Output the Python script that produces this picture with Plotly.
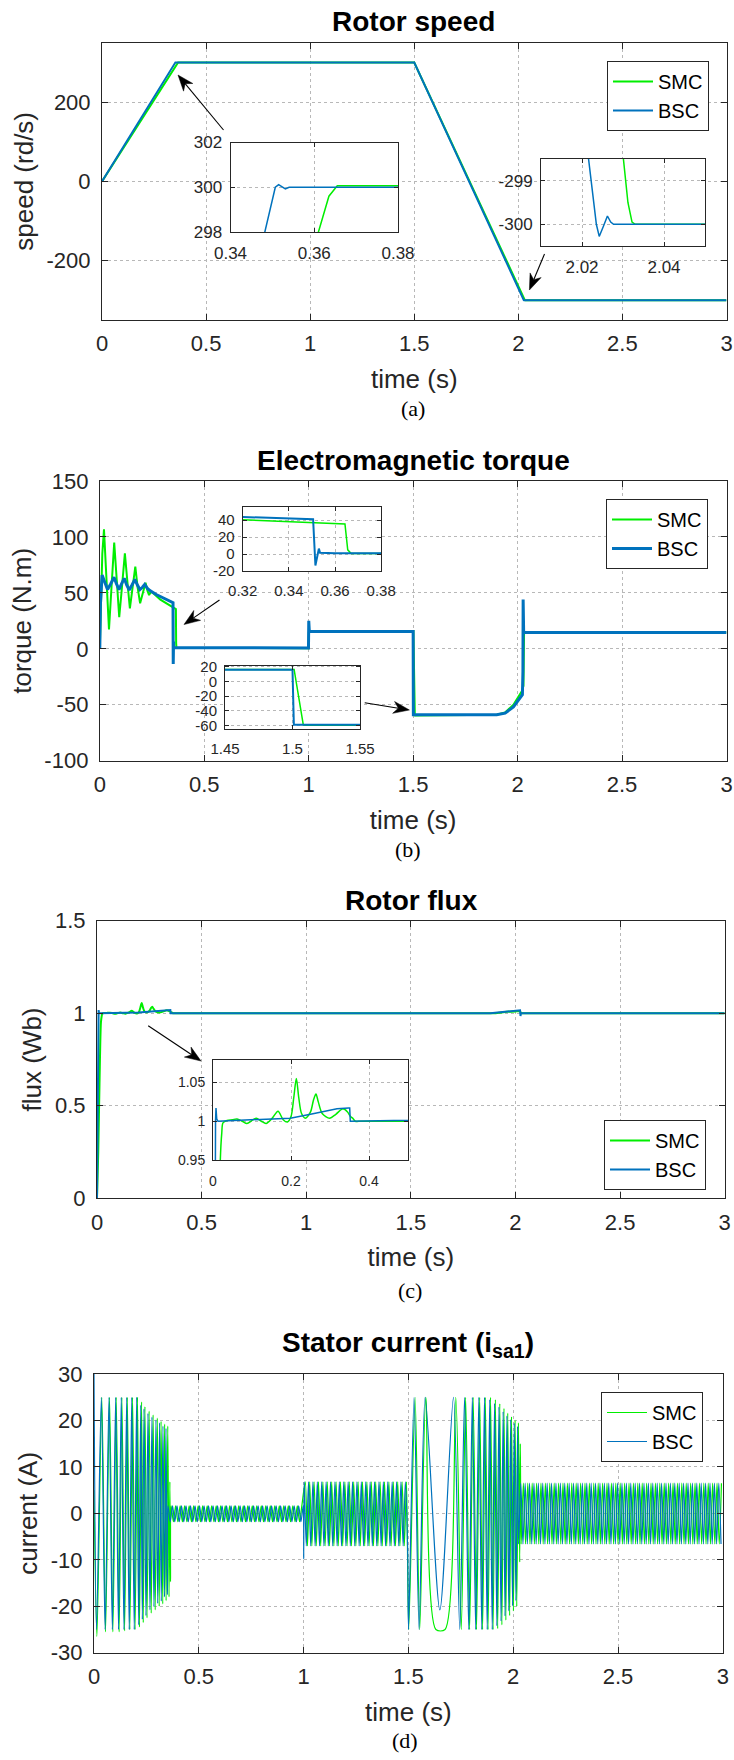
import math
import numpy as np
import plotly.graph_objects as go

W, H = 734, 1760

# ---------------- (a) rotor speed ----------------
spd_t_smc = [0.0, 0.1, 0.2, 0.3, 0.361, 0.3635, 0.3655, 0.38, 1.5, 2.0301, 2.0312, 2.0322, 2.033, 3.0]
spd_smc   = [0.0, 82, 165, 248, 298.0, 299.6, 300.07, 300.07, 300.07, -298.5, -299.5, -299.95, -300.0, -300.0]
spd_t_bsc = [0.0, 0.1, 0.2, 0.3, 0.3482, 0.3507, 0.3515, 0.3523, 0.3531, 0.354, 1.5,
             2.0216, 2.0235, 2.0242, 2.0252, 2.0262, 2.0270, 2.0277, 3.0]
spd_bsc   = [0.0, 86, 171, 257, 298.0, 300.0, 300.12, 300.02, 299.93, 300.0, 300.0,
             -298.5, -300.0, -300.28, -300.05, -299.81, -299.95, -300.0, -300.0]

# ---------------- (b) electromagnetic torque ----------------
tq_t_smc = [0.0, 0.006, 0.012, 0.020, 0.032, 0.044, 0.056, 0.069, 0.081, 0.093, 0.106, 0.120,
            0.132, 0.144, 0.157, 0.170, 0.181, 0.193, 0.206, 0.219, 0.228, 0.236, 0.245, 0.26,
            0.29, 0.32, 0.343, 0.3643, 0.3655, 0.367, 0.38, 0.60, 0.999, 1.0005, 1.003, 1.5,
            1.5012, 1.508, 1.509, 1.90, 1.94, 1.98, 2.02, 2.028, 2.030, 2.031, 2.05, 3.0]
tq_smc   = [0, 45, 85, 106.8, 62, 17.4, 55, 94.9, 62, 28.2, 55, 85.4,
            60, 36.2, 55, 73.4, 55, 40.7, 50, 59.1, 52, 48, 51, 49,
            44, 40.8, 38.5, 35.5, 5, 0.8, 0.8, 0.6, 0.6, 15, 15.5, 16,
            16, -59, -59.5, -59, -57, -50, -38, -33, -5, 14.5, 14.5, 14.5]
tq_t_bsc = [0.0, 0.003, 0.011, 0.024, 0.037, 0.052, 0.068, 0.080, 0.092, 0.104, 0.117, 0.129,
            0.141, 0.154, 0.168, 0.180, 0.192, 0.204, 0.215, 0.228, 0.240, 0.27, 0.30, 0.32,
            0.3505, 0.3515, 0.3522, 0.353, 0.3535, 0.36, 0.38, 0.999, 1.0003, 1.0015, 1.003, 1.5,
            1.5008, 1.501, 1.90, 1.94, 1.98, 2.023, 2.0255, 2.0265, 2.0275, 2.029, 3.0]
tq_bsc   = [0, 40, 66, 60, 53, 58, 64, 58, 53, 58, 63, 57,
            52.6, 57, 62, 57, 53, 55, 57.5, 54, 52, 48.5, 46, 43.8,
            41.2, -13.5, -4, 6.5, 1.5, 1.0, 1.0, 0.8, 25, 16, 15.5, 15.5,
            -59, -59, -59, -57.5, -52, -41, -20, 44, 14.5, 14.5, 14.5]

# ---------------- (c) rotor flux ----------------
fx_t_smc = [0.0, 0.006, 0.012, 0.0188, 0.0225, 0.0256, 0.036, 0.05, 0.0615, 0.075, 0.087, 0.1,
            0.111, 0.124, 0.136, 0.152, 0.1667, 0.18, 0.191, 0.2, 0.207, 0.2137, 0.22, 0.227,
            0.2368, 0.25, 0.258, 0.264, 0.27, 0.28, 0.299, 0.315, 0.333, 0.345, 0.352, 0.358,
            0.365, 0.38, 0.5, 1.0, 1.5, 1.85, 1.9, 1.96, 2.0, 2.02, 2.03, 2.04, 2.1, 2.5, 3.0]
fx_smc   = [0.0, 0.25, 0.62, 0.95, 0.985, 0.998, 1.001, 1.002, 1.003, 1.0, 0.997, 1.001,
            1.004, 1.0, 0.997, 1.004, 1.013, 1.002, 0.999, 1.006, 1.03, 1.055, 1.03, 1.01,
            1.004, 1.012, 1.028, 1.035, 1.025, 1.01, 1.004, 1.009, 1.016, 1.012, 1.0065, 1.004,
            1.0, 1.0, 1.0, 1.0, 1.0, 1.0, 1.0, 1.008, 1.01, 1.01, 1.0, 1.0, 1.0, 1.0, 1.0]
fx_t_bsc = [0.0, 0.004, 0.0065, 0.0077, 0.0095, 0.0128, 0.198, 0.25, 0.318, 0.348, 0.3505, 0.352,
            1.88, 1.95, 2.022, 2.024, 2.026, 3.0]
fx_bsc   = [0.0, 0.8, 1.0, 1.017, 1.003, 1.0, 1.004, 1.009, 1.016, 1.017, 1.017, 1.0,
            1.0, 1.008, 1.016, 0.985, 1.0, 1.0]

# ---------------- (d) stator current i_sa1 ----------------
# individually visible peaks (start-up and speed reversal)
cur_bsc_A_t = [0.000, 0.012, 0.035, 0.053, 0.0716, 0.0875, 0.1034, 0.117, 0.130, 0.143, 0.156, 0.168,
               0.180, 0.192, 0.2036, 0.2133, 0.223, 0.2306, 0.2385, 0.248, 0.2575, 0.267, 0.2765, 0.286,
               0.2955, 0.304, 0.313, 0.321, 0.329, 0.3363, 0.3435, 0.350]
cur_bsc_A_v = [30, -25, 25, -25, 25, -25, 25, -25, 25, -25, 25, -25,
               25, -25, 25, -24, 23.3, -22.8, 22.5, -22, 21.5, -20.8, 20.7, -20.1,
               20.1, -19.4, 19.5, -18.9, 18.8, -18, 18.3, -17.5]
cur_smc_A_t = [0.000, 0.014, 0.037, 0.055, 0.074, 0.090, 0.106, 0.120, 0.133, 0.146, 0.159, 0.171,
               0.184, 0.196, 0.2075, 0.217, 0.227, 0.235, 0.243, 0.253, 0.263, 0.273, 0.282, 0.292,
               0.302, 0.311, 0.320, 0.328, 0.337, 0.344, 0.352, 0.358, 0.362, 0.365]
cur_smc_A_v = [5, -26.5, 25, -25.5, 25, -25.5, 25, -25.5, 25, -25.3, 25, -25,
               25, -25, 25, -24.5, 24, -23.5, 23, -22.5, 22, -21.5, 21.2, -20.8,
               20.5, -20, 19.8, -19.5, 19.2, -18.8, 18.8, -18, 6.8, -14.7]
cur_bsc_D_t = [1.5006, 1.527, 1.551, 1.580, 1.650, 1.715, 1.745, 1.768, 1.788, 1.805, 1.821, 1.836,
               1.850, 1.863, 1.876, 1.888, 1.900, 1.911, 1.922, 1.932, 1.942, 1.952, 1.961, 1.970,
               1.979, 1.988, 1.997, 2.005, 2.013, 2.021]
cur_bsc_D_v = [-25, 25, -25, 25, -20.8, 25, -25, 25, -25, 25, -25, 25,
               -25, 25, -25, 24.5, -25, 23.7, -24.2, 22.9, -23.2, 21.9, -22.1, 21.0,
               -21.0, 20.2, -19.9, 19.4, -18.8, 18.7]
cur_smc_D_t = [1.5015, 1.532, 1.554, 1.583, 1.631, 1.675, 1.726, 1.752, 1.773, 1.792, 1.809, 1.825,
               1.840, 1.854, 1.867, 1.880, 1.892, 1.904, 1.915, 1.926, 1.936, 1.946, 1.956, 1.965,
               1.974, 1.983, 1.992, 2.001, 2.009, 2.017, 2.025, 2.031, 2.034]
cur_smc_D_v = [-25, 25, -25, 25, -25, -25, 25, -25, 25, -25, 25, -25,
               25, -25, 25, -25, 25, -25, 24.5, -24.8, 23.6, -24, 22.6, -23,
               21.6, -22, 20.8, -21, 20, -20, 19.5, -10.5, 15]
# dense steady-state segments: start, end, period, upper and lower peak
cur_osc_t0_bsc = [0.353, 1.0025, 2.0255]
cur_osc_t0_smc = [0.368, 1.008, 2.038]
cur_osc_t1     = [0.9995, 1.4995, 3.0]
cur_osc_period = [0.0215, 0.021, 0.021]
cur_osc_hi     = [1.6, 6.8, 6.5]
cur_osc_lo     = [-1.8, -7.0, -6.6]
cur_osc_first_hi_bsc = [True, True, False]
cur_osc_first_hi_smc = [True, True, False]
cur_bsc_step_t = [1.0006]
cur_bsc_step_v = [-9.8]

# ticks
time_ticks = [0, 0.5, 1, 1.5, 2, 2.5, 3]
time_ticktext = ["0", "0.5", "1", "1.5", "2", "2.5", "3"]

GREEN = "#00ee00"
BLUE = "#0072BD"
AXC = "#262626"
GRID = "#b8b8b8"
FONT = "Liberation Sans, Arial, Helvetica, sans-serif"
SERIF = "Liberation Serif, Times New Roman, serif"


def osc(t0, t1, period, hi, lo, first_hi):
    tt = np.arange(t0, t1, period / 2.0)
    a, b = (hi, lo) if first_hi else (lo, hi)
    vv = np.where(np.arange(len(tt)) % 2 == 0, a, b)
    return list(tt), list(vv)


def build_current(A_t, A_v, D_t, D_v, t0s, first_flags, step_t=None, step_v=None):
    t, v = list(A_t), list(A_v)
    for k in range(3):
        if k == 1 and step_t is not None:
            t += step_t
            v += step_v
        if k == 2:
            t += D_t
            v += D_v
        ot, ov = osc(t0s[k], cur_osc_t1[k], cur_osc_period[k], cur_osc_hi[k], cur_osc_lo[k], first_flags[k])
        t += ot
        v += ov
    return t, v


cur_t_bsc, cur_bsc = build_current(cur_bsc_A_t, cur_bsc_A_v, cur_bsc_D_t, cur_bsc_D_v,
                                   cur_osc_t0_bsc, cur_osc_first_hi_bsc, cur_bsc_step_t, cur_bsc_step_v)
cur_t_smc, cur_smc = build_current(cur_smc_A_t, cur_smc_A_v, cur_smc_D_t, cur_smc_D_v,
                                   cur_osc_t0_smc, cur_osc_first_hi_smc)


def dom(x0, x1, y0, y1):
    return [x0 / W, x1 / W], [1 - y1 / H, 1 - y0 / H]


def axis(domain, rng, tickvals, ticktext, anchor, fsize, ticklen, gap, title=None, tstand=None):
    d = dict(domain=domain, range=rng, anchor=anchor, tickmode="array", tickvals=tickvals,
             ticktext=ticktext, showline=True, linecolor=AXC, linewidth=1, mirror="ticks",
             ticks="inside", ticklen=ticklen, tickwidth=1, tickcolor=AXC, showgrid=True,
             gridcolor=GRID, griddash="dot", gridwidth=1, zeroline=False,
             tickfont=dict(family=FONT, size=fsize, color=AXC), ticklabelstandoff=gap,
             ticklabeloverflow="allow", fixedrange=True, automargin=False)
    if title:
        d["title"] = dict(text=title, font=dict(family=FONT, size=26, color=AXC), standoff=tstand)
    return d


fig = go.Figure()
layout = {}

# ---- main axes geometry (pixels) ----
main_geo = {
    1: (102, 726.5, 42.7, 320),
    2: (99.8, 726.5, 481, 760.7),
    3: (97, 724.7, 920.7, 1198.3),
    4: (94, 722.8, 1374, 1652.7),
}
main_y = {
    1: ([-350, 350], [-200, 0, 200], ["-200", "0", "200"], "speed (rd/s)"),
    2: ([-100, 150], [-100, -50, 0, 50, 100, 150], ["-100", "-50", "0", "50", "100", "150"], "torque (N.m)"),
    3: ([0, 1.5], [0, 0.5, 1, 1.5], ["0", "0.5", "1", "1.5"], "flux (Wb)"),
    4: ([-30, 30], [-30, -20, -10, 0, 10, 20, 30], ["-30", "-20", "-10", "0", "10", "20", "30"], "current (A)"),
}
for i, (x0, x1, y0, y1) in main_geo.items():
    xd, yd = dom(x0, x1, y0, y1)
    sfx = "" if i == 1 else str(i)
    yr, yt, ytt, ytitle = main_y[i]
    layout["xaxis" + sfx] = axis(xd, [0, 3], time_ticks, time_ticktext, "y" + sfx, 22, 6, 4,
                                 "time (s)", 14)
    layout["yaxis" + sfx] = axis(yd, yr, yt, ytt, "x" + sfx, 22, 6, 6, ytitle, 5)

# ---- inset axes ----
insets = {
    5: ((230.5, 398, 142.5, 232), [0.34, 0.38], [0.34, 0.36, 0.38], ["0.34", "0.36", "0.38"],
        [298, 302], [298, 300, 302], ["298", "300", "302"], 17, 6),
    6: ((541, 705, 159, 246), [2.01, 2.05], [2.02, 2.04], ["2.02", "2.04"],
        [-300.5, -298.5], [-300, -299], ["-300", "-299"], 17, 6),
    7: ((242.7, 381.2, 506.7, 571), [0.32, 0.38], [0.32, 0.34, 0.36, 0.38], ["0.32", "0.34", "0.36", "0.38"],
        [-20, 56], [-20, 0, 20, 40], ["-20", "0", "20", "40"], 15, 6),
    8: ((225, 360, 665.5, 729.3), [1.45, 1.55], [1.45, 1.5, 1.55], ["1.45", "1.5", "1.55"],
        [-65, 21.4], [-60, -40, -20, 0, 20], ["-60", "-40", "-20", "0", "20"], 15, 6),
    9: ((213, 408, 1060, 1160), [0, 0.5], [0, 0.2, 0.4], ["0", "0.2", "0.4"],
        [0.95, 1.079], [0.95, 1.0, 1.05], ["0.95", "1", "1.05"], 14, 8),
}
for i, (g, xr, xt, xtt, yr, yt, ytt, fs, xgap) in insets.items():
    xd, yd = dom(*g)
    layout["xaxis%d" % i] = axis(xd, xr, xt, xtt, "y%d" % i, fs, 4, xgap)
    layout["yaxis%d" % i] = axis(yd, yr, yt, ytt, "x%d" % i, fs, 4, 4)


# ---- traces ----
def add(t, v, color, width, ax, name=None, legend=None, shape="linear"):
    fig.add_trace(go.Scatter(
        x=t, y=v, mode="lines", name=name or "",
        line=dict(color=color, width=width, shape=shape, smoothing=0.8 if shape == "spline" else None),
        xaxis="x" if ax == 1 else "x%d" % ax, yaxis="y" if ax == 1 else "y%d" % ax,
        showlegend=legend is not None, legend=legend or "legend", hoverinfo="skip"))


# (a)
add(spd_t_smc, spd_smc, GREEN, 2, 1, "SMC", "legend")
add(spd_t_bsc, spd_bsc, BLUE, 2, 1, "BSC", "legend")
for ax in (5, 6):
    add(spd_t_smc, spd_smc, GREEN, 1.5, ax)
    add(spd_t_bsc, spd_bsc, BLUE, 1.5, ax)
# (b)
add(tq_t_smc, tq_smc, GREEN, 2, 2, "SMC", "legend2")
add(tq_t_bsc, tq_bsc, BLUE, 3, 2, "BSC", "legend2")
for ax in (7, 8):
    add(tq_t_smc, tq_smc, GREEN, 1.5, ax)
    add(tq_t_bsc, tq_bsc, BLUE, 2, ax)
# (c)
add(fx_t_smc, fx_smc, GREEN, 2, 3, "SMC", "legend3", "spline")
add(fx_t_bsc, fx_bsc, BLUE, 2, 3, "BSC", "legend3")
add(fx_t_smc, fx_smc, GREEN, 1.5, 9, shape="spline")
add(fx_t_bsc, fx_bsc, BLUE, 1.5, 9)
# (d)
add(cur_t_smc, cur_smc, GREEN, 1.2, 4, "SMC", "legend4", "spline")
add(cur_t_bsc, cur_bsc, BLUE, 1.2, 4, "BSC", "legend4", "spline")

# ---- legends ----
leg_pos = {"legend": (607, 61), "legend2": (606, 499), "legend3": (604, 1120), "legend4": (601, 1392)}
for k, (lx, ly) in leg_pos.items():
    layout[k] = dict(x=lx / W, y=1 - ly / H, xanchor="left", yanchor="top", bgcolor="white",
                     bordercolor=AXC, borderwidth=1, font=dict(family=FONT, size=20, color="black"),
                     itemwidth=40, tracegroupgap=0)

# ---- annotations: panel titles, captions ----
ann = []
titles = [("Rotor speed", 413, 22), ("Electromagnetic torque", 413, 460), ("Rotor flux", 411, 900),
          ("Stator current (i<sub>sa1</sub>)", 408, 1344)]
for txt, x, y in titles:
    ann.append(dict(text=txt, x=x / W, y=1 - y / H, xref="paper", yref="paper", showarrow=False,
                    xanchor="center", yanchor="middle",
                    font=dict(family=FONT, size=28, color="black", weight="bold")))
caps = [("(a)", 413, 408), ("(b)", 408, 850), ("(c)", 410, 1290), ("(d)", 405, 1740)]
for txt, x, y in caps:
    ann.append(dict(text=txt, x=x / W, y=1 - y / H, xref="paper", yref="paper", showarrow=False,
                    xanchor="center", yanchor="middle", font=dict(family=SERIF, size=22, color="black")))

# ---- arrows drawn as shapes (pixel positions: head, tail) ----
arrows = [((178, 75), (223.5, 130)), ((529.4, 290), (544.5, 254)), ((184, 624.5), (219.5, 600)),
          ((409.4, 710), (364.7, 702.7)), ((201, 1061), (148.2, 1025.7))]
shapes = []


def P(x, y):
    return x / W, 1 - y / H


for (hx, hy), (tx, ty) in arrows:
    dx, dy = hx - tx, hy - ty
    n = math.hypot(dx, dy)
    ux, uy = dx / n, dy / n
    nx, ny = -uy, ux
    L, Wd = 16, 12
    bx, by = hx - L * ux, hy - L * uy
    b1 = (bx + Wd / 2 * nx, by + Wd / 2 * ny)
    b2 = (bx - Wd / 2 * nx, by - Wd / 2 * ny)
    notch = (hx - 0.7 * L * ux, hy - 0.7 * L * uy)
    x0, y0 = P(tx, ty)
    x1, y1 = P(*notch)
    shapes.append(dict(type="line", xref="paper", yref="paper", x0=x0, y0=y0, x1=x1, y1=y1,
                       line=dict(color="black", width=1.1)))
    pts = [P(hx, hy), P(*b1), P(*notch), P(*b2)]
    path = "M %f,%f L %f,%f L %f,%f L %f,%f Z" % tuple(c for p in pts for c in p)
    shapes.append(dict(type="path", xref="paper", yref="paper", path=path,
                       fillcolor="black", line=dict(color="black", width=0.5)))

fig.update_layout(width=W, height=H, margin=dict(l=0, r=0, t=0, b=0), paper_bgcolor="white",
                  plot_bgcolor="white", showlegend=True, annotations=ann, shapes=shapes, **layout)

fig.write_html("out.html", config={"displayModeBar": False},
               post_script="document.body.style.margin='0px';document.body.style.padding='0px';")
